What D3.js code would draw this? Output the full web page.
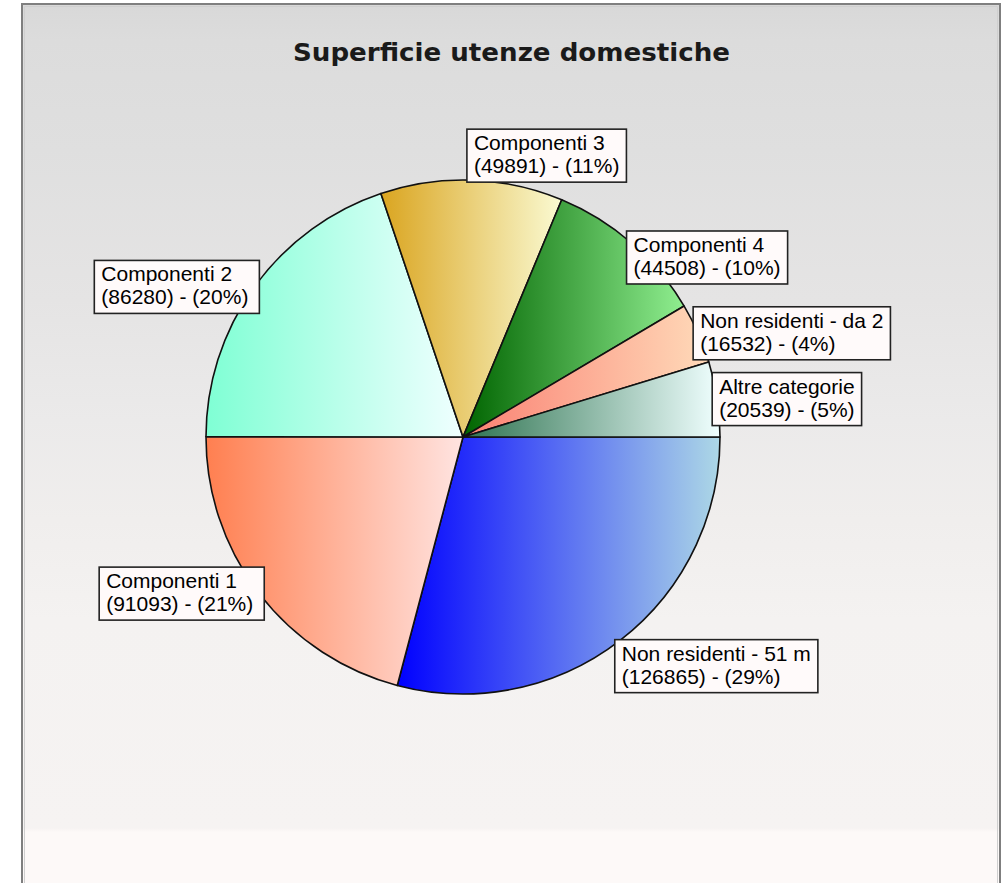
<!DOCTYPE html>
<html>
<head>
<meta charset="utf-8">
<script src="https://cdn.jsdelivr.net/npm/d3@7"></script>
<style>
  body { margin: 0; background: #ffffff; }
</style>
</head>
<body>
<svg id="chart"></svg>
<script>
// data
const categories = [
  'Non residenti - 51 m',
  'Componenti 1',
  'Componenti 2',
  'Componenti 3',
  'Componenti 4',
  'Non residenti - da 2',
  'Altre categorie'
]
const values = [126865, 91093, 86280, 49891, 44508, 16532, 20539]

// slice gradients, left (dark) -> right (light)
const gradFrom = ['#0000ff', '#ff7f50', '#7fffd4', '#daa520', '#006400', '#fa8072', '#2e7350']
const gradTo = ['#add8e6', '#ffe4e1', '#f0ffff', '#fafad2', '#90ee90', '#ffdab9', '#f0ffff']

const width = 1005
const height = 883
const cx = 463
const cy = 437
const radius = 257

const svg = d3
  .select('#chart')
  .attr('width', width)
  .attr('height', height)

const defs = svg.append('defs')

/// background //////////////////////////////
const bg = defs
  .append('linearGradient')
  .attr('id', 'bg')
  .attr('gradientUnits', 'userSpaceOnUse')
  .attr('x1', 0)
  .attr('y1', 4)
  .attr('x2', 0)
  .attr('y2', height)
const bgStops = [
  [4, '#d8d8d8'],
  [40, '#dcdcdc'],
  [150, '#dfdfdf'],
  [300, '#e5e4e4'],
  [420, '#ebeaea'],
  [520, '#f0eeed'],
  [620, '#f4f2f1'],
  [828, '#f6f3f2'],
  [832, '#fdf9f8'],
  [883, '#fdf9f8']
]
bg.selectAll('stop')
  .data(bgStops)
  .join('stop')
  .attr('offset', d => (d[0] - 4) / (height - 4))
  .attr('stop-color', d => d[1])

svg
  .append('rect')
  .attr('x', 22)
  .attr('y', 4)
  .attr('width', 978)
  .attr('height', height + 10)
  .attr('fill', 'url(#bg)')

/// pie //////////////////////////////
const data = categories.map((c, i) => ({ name: c, value: values[i], i: i }))
const total = d3.sum(values)

const pie = d3
  .pie()
  .sort(null)
  .value(d => d.value)
  .startAngle(Math.PI / 2)
  .endAngle(Math.PI / 2 + 2 * Math.PI)

const arc = d3.arc().innerRadius(0).outerRadius(radius)

data.forEach((d, i) => {
  const g = defs
    .append('linearGradient')
    .attr('id', 'slice' + i)
    .attr('x1', 0)
    .attr('y1', 0)
    .attr('x2', 1)
    .attr('y2', 0)
  g.append('stop').attr('offset', 0).attr('stop-color', gradFrom[i])
  g.append('stop').attr('offset', 1).attr('stop-color', gradTo[i])
})

const pieG = svg.append('g').attr('transform', 'translate(' + cx + ',' + cy + ')')

pieG
  .selectAll('path')
  .data(pie(data))
  .join('path')
  .attr('d', arc)
  .attr('fill', d => 'url(#slice' + d.data.i + ')')
  .attr('stroke', '#111')
  .attr('stroke-width', 1.6)
  .attr('stroke-linejoin', 'round')

/// labels //////////////////////////////
const pctFormat = v => Math.round((v / total) * 100) + '%'
const lineH = 23
const padX = 6
const boxH = 53

pie(data).forEach(d => {
  const a = (d.startAngle + d.endAngle) / 2
  const ax = cx + Math.sin(a) * radius
  const ay = cy - Math.cos(a) * radius
  const sx = Math.sin(a)
  const sy = -Math.cos(a)

  const lab = svg.append('g').attr('class', 'label')
  const box = lab.append('rect')
  const txt = lab
    .append('text')
    .attr('font-family', 'Liberation Sans, Arial, sans-serif')
    .attr('font-size', 21)
    .attr('fill', '#000')
  txt.append('tspan').attr('x', 0).attr('y', 0).text(d.data.name)
  txt
    .append('tspan')
    .attr('x', 0)
    .attr('y', lineH)
    .text('(' + d.data.value + ') - (' + pctFormat(d.data.value) + ')')

  const tw = txt.node().getBBox().width
  const boxW = tw + padX * 2 + (sx >= 0 ? 2 : 6)

  // box sits beside the arc point, above it near the top, below it near the bottom
  const left = sx >= 0 ? ax - 5 : ax + 5 - boxW
  let top
  if (sy < -0.9) top = ay + 2 - boxH
  else if (sy < -0.7) top = ay - 12
  else if (sy > 0.7) top = ay - 1
  else top = ay - boxH / 2

  box
    .attr('x', left)
    .attr('y', top)
    .attr('width', boxW)
    .attr('height', boxH)
    .attr('fill', '#fffafa')
    .attr('stroke', '#222')
    .attr('stroke-width', 1.6)
  txt.attr('transform', 'translate(' + (left + padX + 1) + ',' + (top + 21) + ')')
})

/// title //////////////////////////////
svg
  .append('text')
  .attr('class', 'headline')
  .text('Superficie utenze domestiche')
  .attr('x', 511.5)
  .attr('y', 61)
  .attr('text-anchor', 'middle')
  .attr('font-family', 'DejaVu Sans, sans-serif')
  .attr('font-weight', 'bold')
  .attr('font-size', 24)
  .attr('textLength', 437)
  .attr('lengthAdjust', 'spacingAndGlyphs')
  .attr('fill', '#1a1a1a')

/// frame //////////////////////////////
svg
  .append('path')
  .attr('d', 'M22,' + (height + 5) + 'V4H1000V' + (height + 5))
  .attr('fill', 'none')
  .attr('stroke', '#7f7f7f')
  .attr('stroke-width', 2)
svg
  .append('path')
  .attr('d', 'M24.5,' + (height + 5) + 'V6.5H997.5V' + (height + 5))
  .attr('fill', 'none')
  .attr('stroke', '#cfcfcf')
  .attr('stroke-width', 1)
</script>
</body>
</html>
